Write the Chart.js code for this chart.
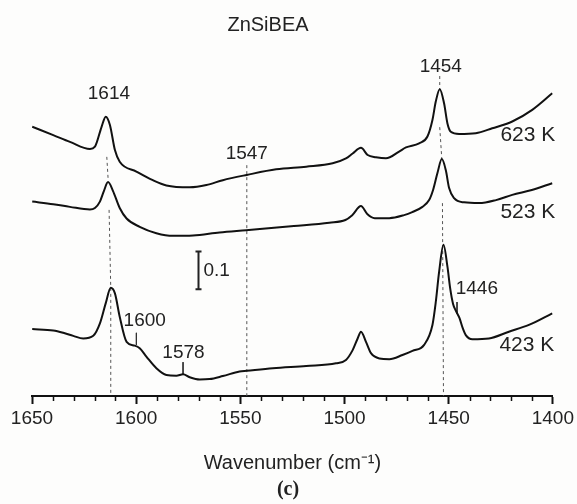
<!DOCTYPE html>
<html>
<head>
<meta charset="utf-8">
<script src="https://cdn.jsdelivr.net/npm/chart.js@4.4.1/dist/chart.umd.min.js"></script>
<style>
html, body { margin: 0; padding: 0; background: #fdfdfc; }
canvas { display: block; }
</style>
</head>
<body>
<canvas id="irChart" width="577" height="504"></canvas>
<script>
// spectra as plotted (absorbance incl. vertical offsets), wavenumber in cm-1
var wn623 = [1649.9, 1639.8, 1631.8, 1622.2, 1619.8, 1616.6, 1614.6, 1612.6, 1610.2, 1607.9, 1599.9, 1592.0, 1585.5, 1574.3, 1566.3, 1558.4, 1546.9, 1532.8, 1518.4, 1505.7, 1499.3, 1496.1, 1492.1, 1488.9, 1484.9, 1480.1, 1473.8, 1470.5, 1464.2, 1460.2, 1457.8, 1456.2, 1454.3, 1452.2, 1450.6, 1449.0, 1445.0, 1437.0, 1429.1, 1419.5, 1409.9, 1400.3];
var abs623 = [0.716, 0.694, 0.676, 0.657, 0.663, 0.716, 0.743, 0.721, 0.654, 0.623, 0.597, 0.574, 0.560, 0.555, 0.561, 0.574, 0.588, 0.603, 0.610, 0.619, 0.632, 0.645, 0.660, 0.641, 0.635, 0.632, 0.650, 0.661, 0.672, 0.690, 0.734, 0.783, 0.816, 0.778, 0.725, 0.703, 0.697, 0.699, 0.712, 0.730, 0.761, 0.805];

var wn523 = [1649.9, 1639.8, 1631.8, 1622.2, 1619.8, 1617.4, 1615.5, 1613.5, 1611.1, 1607.9, 1604.6, 1598.3, 1590.3, 1582.3, 1572.7, 1560.0, 1547.2, 1524.3, 1507.3, 1499.6, 1496.3, 1492.1, 1489.1, 1485.5, 1478.5, 1471.4, 1467.5, 1462.6, 1459.4, 1457.5, 1455.4, 1453.3, 1451.4, 1449.8, 1447.4, 1442.6, 1435.4, 1427.3, 1419.5, 1410.1, 1400.3];
var abs523 = [0.517, 0.510, 0.503, 0.496, 0.500, 0.517, 0.545, 0.569, 0.545, 0.500, 0.472, 0.450, 0.433, 0.426, 0.427, 0.435, 0.441, 0.452, 0.461, 0.468, 0.481, 0.505, 0.484, 0.473, 0.473, 0.481, 0.489, 0.503, 0.521, 0.548, 0.593, 0.630, 0.601, 0.553, 0.526, 0.515, 0.513, 0.521, 0.535, 0.548, 0.566];

var wn423 = [1649.9, 1639.8, 1635.0, 1630.2, 1625.4, 1620.6, 1617.4, 1614.6, 1612.2, 1610.2, 1607.9, 1604.6, 1600.7, 1598.3, 1595.1, 1590.3, 1585.5, 1580.7, 1577.5, 1574.3, 1569.5, 1564.8, 1558.4, 1550.4, 1546.9, 1534.4, 1518.4, 1504.1, 1499.3, 1496.1, 1493.7, 1492.1, 1489.7, 1487.3, 1483.3, 1478.5, 1472.2, 1467.4, 1461.8, 1457.8, 1456.2, 1454.6, 1452.5, 1450.6, 1449.3, 1447.9, 1446.5, 1444.8, 1443.3, 1441.8, 1438.6, 1430.7, 1421.1, 1411.5, 1400.3];
var abs423 = [0.178, 0.174, 0.168, 0.160, 0.153, 0.160, 0.193, 0.247, 0.288, 0.273, 0.211, 0.144, 0.134, 0.127, 0.105, 0.074, 0.056, 0.054, 0.058, 0.050, 0.044, 0.045, 0.053, 0.065, 0.067, 0.074, 0.080, 0.087, 0.096, 0.122, 0.153, 0.171, 0.144, 0.114, 0.100, 0.098, 0.109, 0.120, 0.136, 0.189, 0.250, 0.330, 0.402, 0.344, 0.287, 0.245, 0.226, 0.207, 0.181, 0.162, 0.151, 0.153, 0.171, 0.189, 0.220];

// dashed guide lines (null = hidden behind a peak)
var guideWn1614 = [1614.1, 1613.5, 1613.0, 1613.0, 1612.2, 1612.2];
var guideY1614 = [0.636, 0.580, null, 0.495, 0.287, 0.0];
var guideWn1547 = [1546.9, 1546.9];
var guideY1547 = [0.614, 0.0];
var guideWn1454 = [1454.3, 1454.3, 1454.3, 1454.3, 1453.3, 1453.3, 1453.0, 1452.5];
var guideY1454 = [0.851, 0.816, null, 0.715, 0.630, null, 0.513, 0.0];

// small leader lines for shoulders
var leaderWn = [1599.9, 1577.5, 1446.0];
var leaderTop = [0.168, 0.090, 0.250];
var leaderBottom = [0.136, 0.056, 0.219];

var peakLabels = ['1614', '1454', '1547', '1600', '1578', '1446'];
var tempLabels = ['623 K', '523 K', '423 K'];
var scaleBarSize = 0.1;

function pts(xs, ys) {
    return xs.map(function (w, i) { return { x: w, y: ys[i] }; });
}

var fontSans = "'Liberation Sans', Arial, sans-serif";

var curveStyle = {
    borderColor: '#111',
    borderWidth: 2,
    pointRadius: 0,
    fill: false,
    cubicInterpolationMode: 'monotone',
    order: 0
};
var guideStyle = {
    borderColor: '#555',
    borderWidth: 1,
    borderDash: [3, 3],
    pointRadius: 0,
    fill: false,
    spanGaps: false,
    tension: 0,
    order: 2
};

var datasets = [
    Object.assign({ label: '623 K', data: pts(wn623, abs623) }, curveStyle),
    Object.assign({ label: '523 K', data: pts(wn523, abs523) }, curveStyle),
    Object.assign({ label: '423 K', data: pts(wn423, abs423) }, curveStyle),
    Object.assign({ label: 'g1614', data: pts(guideWn1614, guideY1614) }, guideStyle),
    Object.assign({ label: 'g1547', data: pts(guideWn1547, guideY1547) }, guideStyle),
    Object.assign({ label: 'g1454', data: pts(guideWn1454, guideY1454) }, guideStyle)
];
leaderWn.forEach(function (w, i) {
    datasets.push({
        label: 'leader' + i,
        data: [{ x: w, y: leaderTop[i] }, { x: w, y: leaderBottom[i] }],
        borderColor: '#333', borderWidth: 1, pointRadius: 0, order: 1
    });
});

// where the text goes, in data units (wavenumber, absorbance)
var peakLabelPos = [[1613.1, 0.805], [1453.8, 0.876], [1546.9, 0.645], [1595.9, 0.199], [1577.3, 0.116], [1436.5, 0.286]];
var tempLabelPos = [[1412.0, 0.694], [1412.0, 0.490], [1412.5, 0.136]];
var scaleBarPos = [1570.5, 0.284];

var extras = {
    id: 'extras',
    afterDraw: function (chart) {
        var ctx = chart.ctx;
        var xs = chart.scales.x, ys = chart.scales.y;
        ctx.save();

        // minor ticks every 10 cm-1
        ctx.strokeStyle = '#111';
        ctx.lineWidth = 1.5;
        for (var w = 1400; w <= 1650; w += 10) {
            if (w % 50 === 0) continue;
            var px = Math.round(xs.getPixelForValue(w)) + 0.5;
            ctx.beginPath();
            ctx.moveTo(px, ys.bottom);
            ctx.lineTo(px, ys.bottom + 5);
            ctx.stroke();
        }

        ctx.fillStyle = '#222';
        ctx.textAlign = 'center';
        ctx.textBaseline = 'middle';

        ctx.font = '20px ' + fontSans;
        ctx.fillText('ZnSiBEA', 268, 25);

        ctx.font = '19px ' + fontSans;
        peakLabels.forEach(function (t, i) {
            ctx.fillText(t, xs.getPixelForValue(peakLabelPos[i][0]), ys.getPixelForValue(peakLabelPos[i][1]));
        });

        ctx.font = '21px ' + fontSans;
        tempLabels.forEach(function (t, i) {
            ctx.fillText(t, xs.getPixelForValue(tempLabelPos[i][0]), ys.getPixelForValue(tempLabelPos[i][1]));
        });

        // 0.1 scale bar
        var bx = Math.round(xs.getPixelForValue(scaleBarPos[0])) + 0.5;
        var b0 = ys.getPixelForValue(scaleBarPos[1]);
        var b1 = ys.getPixelForValue(scaleBarPos[1] + scaleBarSize);
        ctx.strokeStyle = '#222';
        ctx.lineWidth = 2;
        ctx.beginPath();
        ctx.moveTo(bx, b0); ctx.lineTo(bx, b1);
        ctx.moveTo(bx - 3, b0); ctx.lineTo(bx + 3, b0);
        ctx.moveTo(bx - 3, b1); ctx.lineTo(bx + 3, b1);
        ctx.stroke();
        ctx.textAlign = 'left';
        ctx.font = '19px ' + fontSans;
        ctx.fillText('0.1', bx + 5, (b0 + b1) / 2);

        ctx.textAlign = 'center';
        ctx.font = 'bold 20px "Liberation Serif", serif';
        ctx.fillText('(c)', 288, 490);
        ctx.restore();
    }
};

new Chart(document.getElementById('irChart').getContext('2d'), {
    type: 'line',
    data: { datasets: datasets },
    options: {
        responsive: false,
        animation: false,
        layout: { padding: { left: 32, right: 23, top: 20, bottom: 0 } },
        plugins: { legend: { display: false }, tooltip: { enabled: false } },
        scales: {
            x: {
                type: 'linear',
                min: 1400,
                max: 1650,
                reverse: true,
                border: { display: true, color: '#111', width: 2 },
                grid: { display: true, drawOnChartArea: false, drawTicks: true, tickLength: 8, tickWidth: 2, tickColor: '#111' },
                ticks: {
                    stepSize: 50,
                    padding: 3,
                    color: '#222',
                    maxRotation: 0,
                    font: { family: fontSans, size: 19 },
                    callback: function (v) { return String(v); }
                },
                title: {
                    display: true,
                    text: 'Wavenumber (cm\u207B\u00B9)',
                    color: '#222',
                    font: { family: fontSans, size: 20 },
                    padding: { top: 0, bottom: 29 }
                },
                afterFit: function (scale) { scale.height = 108; }
            },
            y: { display: false, min: 0, max: 1 }
        }
    },
    plugins: [extras]
});
</script>
</body>
</html>
